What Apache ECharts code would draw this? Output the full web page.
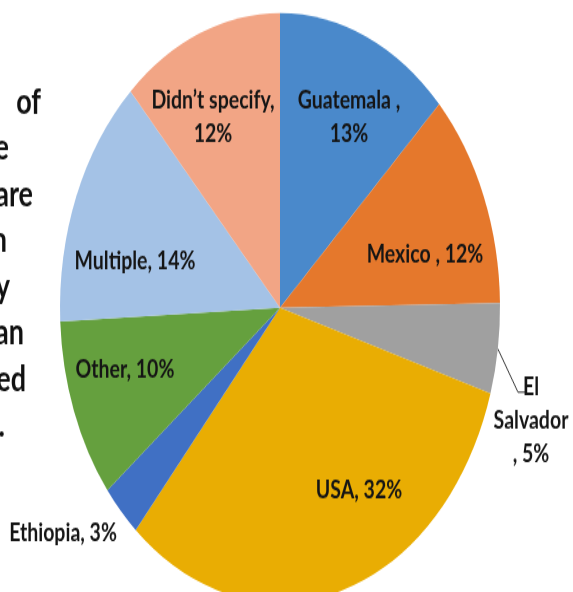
<!DOCTYPE html>
<html><head><meta charset="utf-8">
<script src="https://cdn.jsdelivr.net/npm/echarts@6/dist/echarts.min.js"></script>
<style>
html,body{margin:0;padding:0;background:#fff;overflow:hidden;width:573px;height:592px;}
#main{width:573px;height:442px;transform:scaleY(1.3394);transform-origin:0 0;}
</style></head><body><div id="main"></div>
<script>
// ---- data ----
const categories = ['Guatemala ', 'Mexico ', 'El Salvador', 'USA', 'Ethiopia', 'Other', 'Multiple', 'Didn\u2019t specify'];
const values = [13, 12, 5, 32, 3, 10, 14, 12];
const labelTemplates = ['Guatemala ,\n{v}%', 'Mexico , {v}%', 'El\nSalvador\n, {v}%', 'USA, {v}%', 'Ethiopia, {v}%', 'Other, {v}%', 'Multiple, {v}%', 'Didn\u2019t specify,\n{v}%'];
// left-hand text fragments (cut off by the page edge)
const sideFragments = ['of', 'e', 'are', 'n', 'y', 'an', 'ed', '.'];

// ---- styling / layout ----
const colors = ['#4a89cb', '#e5782c', '#a0a0a0', '#e9ad03', '#4070c4', '#65a03e', '#a4c2e6', '#f2a585'];
const labelPos = [[349, 87], [425, 189.7], [531, 313.5], [359, 366], [63, 398], [125, 275.6], [135, 195], [213, 87]];
const fragRight = [41, 9, 33, 7, 10, 24, 26, 5];
const fragY0 = 76, fragStep = 34.5;

const chart = echarts.init(document.getElementById('main'), null, {renderer: 'canvas'});
const data = categories.map((c, i) => {
  const item = {name: c, value: values[i], itemStyle: {color: colors[i]}};
  if (i === 2) { item.label = {position: 'outside'}; item.labelLine = {show: true, lineStyle: {color: '#333', width: 1}}; }
  if (i === 4) { item.label = {position: 'outside'}; item.labelLine = {show: false}; }
  return item;
});
const font = 'Lato, "Open Sans", sans-serif';
chart.setOption({
  animation: false,
  graphic: sideFragments.map((t, i) => ({
    type: 'text', silent: true,
    style: {text: t, x: fragRight[i], y: fragY0 + i * fragStep, align: 'right', verticalAlign: 'middle',
      font: 'bold 27px ' + font, fill: '#111'}
  })),
  series: [{
    type: 'pie',
    center: [280, 229.7],
    radius: 220,
    startAngle: 90,
    clockwise: true,
    avoidLabelOverlap: false,
    emphasis: {disabled: true},
    itemStyle: {borderWidth: 0},
    label: {
      show: true, position: 'inside', color: '#151515',
      fontFamily: font, fontWeight: 'bold', fontSize: 19.5, lineHeight: 25, align: 'center',
      formatter: p => labelTemplates[p.dataIndex].replace('{v}', p.value)
    },
    labelLine: {show: false},
    labelLayout: params => {
      const p = labelPos[params.dataIndex];
      const r = {x: p[0], y: p[1], align: 'center', verticalAlign: 'middle'};
      if (params.dataIndex === 2 && params.labelLinePoints) {
        const s = params.labelLinePoints[0];
        r.labelLinePoints = [[s[0], s[1]], [518, 292.8], [525, 292.8]];
      }
      return r;
    },
    data: data
  }]
});
</script></body></html>
